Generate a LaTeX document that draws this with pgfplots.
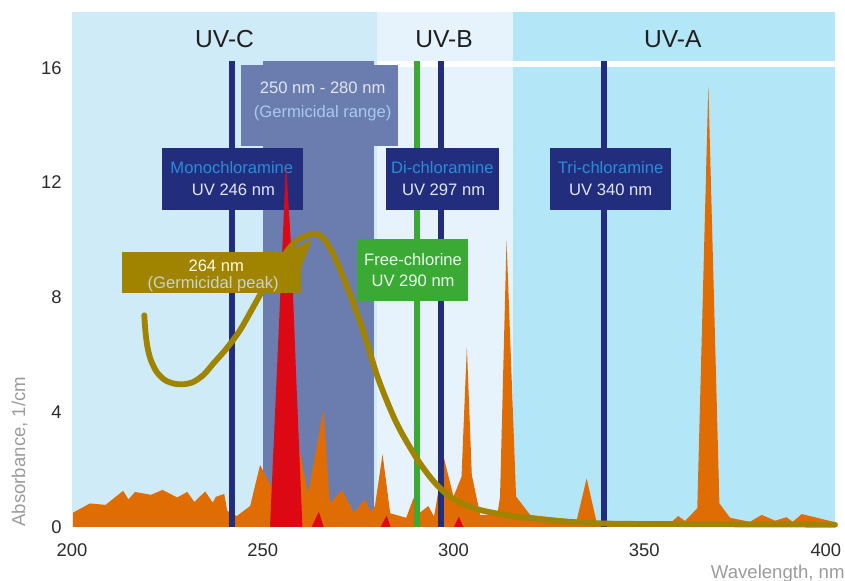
\documentclass[border=0pt]{standalone}
\usepackage{fontspec}
\setmainfont{Liberation Sans}
\usepackage{pgfplots}
\pgfplotsset{compat=1.18}

\definecolor{uvc}{HTML}{D0EBF8}
\definecolor{uvb}{HTML}{E6F3FC}
\definecolor{uva}{HTML}{B3E7F7}
\definecolor{germ}{HTML}{6B7CAF}
\definecolor{navy}{HTML}{222E7D}
\definecolor{chlgreen}{HTML}{3AAA35}
\definecolor{spec}{HTML}{E06C04}
\definecolor{peakred}{HTML}{DC0915}
\definecolor{olive}{HTML}{A08400}
\definecolor{boxblue}{HTML}{2A8CD8}
\definecolor{boxwhite}{HTML}{E2E6F2}
\definecolor{rangeblue}{HTML}{A6CBEF}
\definecolor{peaktxt}{HTML}{C9D3CF}
\definecolor{tickgray}{HTML}{2B2B2B}
\definecolor{labgray}{HTML}{9B9B9B}

\begin{document}
\begin{tikzpicture}
\useasboundingbox (-36pt,-27pt) rectangle (386.5pt,263.5pt);
\begin{axis}[
    scale only axis,
    width=381.5pt, height=257.5pt,
    xmin=200, xmax=400, ymin=0, ymax=17.93,
    clip=false,
    axis line style={draw=none},
    major tick length=0pt,
    xtick={200,250,300,350,397.6},
    xticklabels={200,250,300,350,400},
    ytick={0,4,8,12,16},
    /pgf/number format/assume math mode=true,
    ticklabel style={font=\fontsize{9.2}{11}\selectfont, text=tickgray, inner sep=0pt},
    xticklabel style={anchor=base, yshift=-14.8pt},
    yticklabel style={anchor=base east, xshift=-5pt, yshift=-3.3pt},
  ]
  % bands
  \fill[uvc] (axis cs:200,0) rectangle (axis cs:280,17.93);
  \fill[uvb] (axis cs:280,0) rectangle (axis cs:315.5,17.93);
  \fill[uva] (axis cs:315.5,0) rectangle (axis cs:400,17.93);
  \fill[white] (axis cs:280,16.03) rectangle (axis cs:400,16.24);
  \node[anchor=base, font=\fontsize{12.3}{14}\selectfont, text=black!88] at (axis cs:240,16.71) {UV-C};
  \node[anchor=base, font=\fontsize{12.3}{14}\selectfont, text=black!88] at (axis cs:297.5,16.71) {UV-B};
  \node[anchor=base, font=\fontsize{12.3}{14}\selectfont, text=black!88] at (axis cs:357.5,16.71) {UV-A};

  % germicidal range
  \fill[germ] (axis cs:250.1,0) rectangle (axis cs:279.2,16.21);
  \fill[germ] (axis cs:244.3,13.25) rectangle (axis cs:285.5,16.07);
  \node[anchor=base, font=\fontsize{8.3}{10}\selectfont, text=boxwhite] at (axis cs:265.7,15.08) {250 nm - 280 nm};
  \node[anchor=base, font=\fontsize{8.3}{10}\selectfont, text=rangeblue] at (axis cs:265.7,14.24) {(Germicidal range)};

  % measured spectrum
  \addplot[fill=spec, draw=none] coordinates {
    (200.3,0) (200.3,0.5) (204.7,0.82) (208.8,0.77) (213.4,1.26) (214.8,0.96)
    (216.5,1.22) (220.7,1.12) (223.7,1.29) (227.6,1.03) (230.2,1.22) (232.1,0.87)
    (234.9,1.24) (236.9,0.85) (237.7,1.05) (239.9,1.15) (240.7,0.56) (243.2,0.38)
    (246.7,0.73) (249.3,2.16) (252.3,1.4) (255,1.0) (258.5,3.4) (261.9,1.17)
    (265.9,4.09) (267.6,0.82) (270.7,1.29) (273.9,0.5) (276.8,0.96) (278.3,0.53)
    (279.4,0.73) (281.4,2.54) (283.4,0.48) (287.6,0.32) (289.5,1.0) (291.2,0.5)
    (293.4,0.73) (294.9,0.36) (297.5,2.4) (300.0,1.06) (302.1,1.75) (303.5,6.27)
    (304.8,1.81) (307.0,0.42) (311.5,0.42) (312.2,1.06) (313.9,9.98) (316.4,1.06)
    (320.1,0.42) (332.3,0.24) (334.9,1.69) (337.5,0.18) (357.2,0.18) (358.9,0.38)
    (360.7,0.21) (363.9,0.65) (366.8,15.37) (369.7,0.82) (372.5,0.32) (377.7,0.18)
    (380.8,0.42) (384.3,0.22) (387.3,0.34) (388.9,0.18) (391.3,0.45) (399.6,0.18)
    (400,0.15)
  } \closedcycle;

  % red peaks
  \addplot[fill=peakred, draw=none] coordinates {
    (262.8,0) (264.7,0.53) (266.0,0)
  } \closedcycle;
  \addplot[fill=peakred, draw=none] coordinates {
    (280.9,0) (282.5,0.4) (283.5,0)
  } \closedcycle;
  \addplot[fill=peakred, draw=none] coordinates {
    (300.1,0) (301.4,0.36) (302.6,0)
  } \closedcycle;

  % wavelength markers
  \addplot[navy, line width=3pt] coordinates {(241.9,0) (241.9,16.21)};
  \addplot[navy, line width=3pt] coordinates {(296.8,0) (296.8,16.21)};
  \addplot[navy, line width=3pt] coordinates {(339.4,0) (339.4,16.21)};
  \addplot[chlgreen, line width=3pt] coordinates {(290.4,0) (290.4,16.21)};

  % label boxes
  \fill[navy] (axis cs:223.6,11.03) rectangle (axis cs:260.6,13.18);
  \node[anchor=base, font=\fontsize{8.3}{10}\selectfont, text=boxblue] at (axis cs:241.9,12.3) {Monochloramine};
  \node[anchor=base, font=\fontsize{8.3}{10}\selectfont, text=boxwhite] at (axis cs:242.3,11.55) {UV 246 nm};

  \fill[navy] (axis cs:282.3,11.03) rectangle (axis cs:311.9,13.18);
  \node[anchor=base, font=\fontsize{8.3}{10}\selectfont, text=boxblue] at (axis cs:297.1,12.3) {Di-chloramine};
  \node[anchor=base, font=\fontsize{8.3}{10}\selectfont, text=boxwhite] at (axis cs:297.4,11.55) {UV 297 nm};

  \fill[navy] (axis cs:325.3,11.03) rectangle (axis cs:357.0,13.18);
  \node[anchor=base, font=\fontsize{8.3}{10}\selectfont, text=boxblue] at (axis cs:341.2,12.3) {Tri-chloramine};
  \node[anchor=base, font=\fontsize{8.3}{10}\selectfont, text=boxwhite] at (axis cs:341.2,11.55) {UV 340 nm};

  \fill[chlgreen] (axis cs:274.7,7.86) rectangle (axis cs:303.8,10.02);
  \node[anchor=base, font=\fontsize{8.3}{10}\selectfont, text=green!8!white] at (axis cs:289.4,9.11) {Free-chlorine};
  \node[anchor=base, font=\fontsize{8.3}{10}\selectfont, text=green!8!white] at (axis cs:289.4,8.38) {UV 290 nm};

  % main red peak
  \addplot[fill=peakred, draw=none] coordinates {
    (251.9,0) (253.6,5.1) (255.1,9.6) (256.1,12.7) (257.5,9.6) (258.8,5.1) (260.4,0)
  } \closedcycle;

  % germicidal efficiency curve
  \addplot[olive, line width=2.9pt, line cap=round, smooth, tension=0.5] coordinates {
    (218.95,7.37) (219.25,6.8) (219.8,6.25) (220.7,5.8) (222.2,5.4) (224.3,5.12)
    (226.8,4.99) (229.3,4.97) (231.8,5.05) (234.5,5.3) (237.04,5.69) (240.55,6.22)
    (244.04,6.85) (247.52,7.66) (251.5,8.6) (255.8,9.5) (258.9,9.97) (262.8,10.2)
    (265.5,10.1) (268.5,9.5) (272.6,8.2) (276.4,6.8) (280.3,5.15) (285.1,3.61)
    (290.3,2.4) (293.8,1.75) (296.5,1.35) (299.9,0.98) (307,0.59) (320,0.3)
    (337.5,0.13) (360,0.1) (400,0.08)
  };

  % germicidal peak label
  \fill[olive] (axis cs:213.1,8.14) rectangle (axis cs:260.0,9.57);
  \fill[olive] (axis cs:255.8,9.55) -- (axis cs:262.9,10.0) -- (axis cs:260.0,9.0) -- cycle;
  \node[anchor=base, font=\fontsize{8.3}{10}\selectfont, text=yellow!10!white] at (axis cs:237.8,8.88) {264 nm};
  \node[anchor=base, font=\fontsize{8.3}{10}\selectfont, text=peaktxt] at (axis cs:237.0,8.30) {(Germicidal peak)};

  % axis titles
  \node[rotate=90, anchor=west, inner sep=0pt, font=\fontsize{9.3}{11}\selectfont, text=labgray]
    at ([xshift=-26.25pt]axis cs:200,0) {Absorbance, 1/cm};
  \node[anchor=base east, inner sep=0pt, font=\fontsize{9.3}{11}\selectfont, text=labgray]
    at ([xshift=5pt, yshift=-26pt]axis cs:400,0) {Wavelength, nm};
\end{axis}
\end{tikzpicture}
\end{document}
